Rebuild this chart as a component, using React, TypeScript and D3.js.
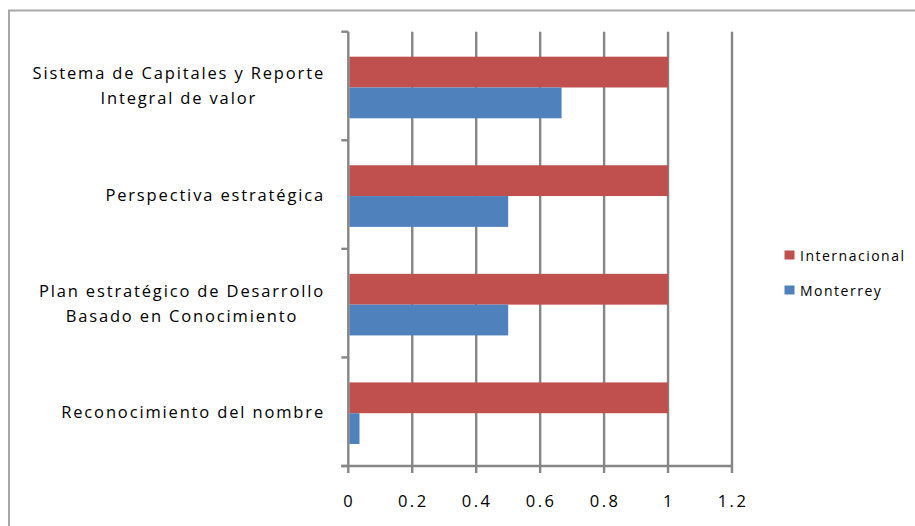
import React, { useEffect, useRef } from "react";
import * as d3 from "d3";

const categories = [
  "Sistema de Capitales y Reporte|Integral de valor",
  "Perspectiva estratégica",
  "Plan estratégico de Desarrollo|Basado en Conocimiento",
  "Reconocimiento del nombre",
];
const seriesNames = ["Internacional", "Monterrey"];
const internacional = [1, 1, 1, 1];
const monterrey = [0.667, 0.5, 0.5, 0.035];
const xTicks = [0, 0.2, 0.4, 0.6, 0.8, 1, 1.2];
const colors = ["#C0504D", "#4F81BD"];

const W = 915;
const H = 526;
const FONT = "'Open Sans', 'Liberation Sans', sans-serif";

export default function App() {
  const ref = useRef<SVGSVGElement>(null);

  useEffect(() => {
    const svg = d3.select(ref.current);
    svg.selectAll("*").remove();

    const left = 348.3, right = 732, top = 31.7, bottom = 466;
    const x = d3.scaleLinear().domain([0, 1.2]).range([left, right]);
    const y = d3.scaleBand().domain(categories).range([top, bottom]);
    const grid = "#868686";

    // chart border
    svg.append("rect").attr("x", 9).attr("y", 10.5).attr("width", 1000).attr("height", 1000)
      .attr("fill", "white").attr("stroke", "#a8a8a8").attr("stroke-width", 2);

    // vertical gridlines
    svg.append("g").selectAll("line").data(xTicks.slice(1)).join("line")
      .attr("x1", d => x(d)).attr("x2", d => x(d))
      .attr("y1", top).attr("y2", bottom + 7)
      .attr("stroke", grid).attr("stroke-width", 2.4);

    // bars
    const bh = 30.8;
    const data = categories.map((c, i) => ({ c, vals: [internacional[i], monterrey[i]] }));
    const g = svg.append("g");
    data.forEach(d => {
      const center = (y(d.c) as number) + y.bandwidth() / 2 + 1.5;
      d.vals.forEach((v, si) => {
        g.append("rect")
          .attr("x", x(0) + 1)
          .attr("y", center - bh + si * bh)
          .attr("width", x(v) - x(0) - 1)
          .attr("height", bh)
          .attr("fill", colors[si]);
      });
    });

    // y axis
    svg.append("line").attr("x1", left).attr("x2", left).attr("y1", top).attr("y2", bottom + 7)
      .attr("stroke", grid).attr("stroke-width", 2.4);
    const yBounds = [top, ...categories.map(c => (y(c) as number) + y.bandwidth())];
    svg.append("g").selectAll("line").data(yBounds).join("line")
      .attr("x1", left - 7).attr("x2", left).attr("y1", d => d).attr("y2", d => d)
      .attr("stroke", grid).attr("stroke-width", 2.4);
    // x axis
    svg.append("line").attr("x1", left - 7).attr("x2", right + 1).attr("y1", bottom).attr("y2", bottom)
      .attr("stroke", grid).attr("stroke-width", 2.4);

    // x tick labels
    svg.append("g").selectAll("text").data(xTicks).join("text")
      .attr("x", d => x(d) + 1).attr("y", 507)
      .attr("text-anchor", "middle")
      .attr("font-family", FONT).attr("font-size", 16.5).attr("letter-spacing", 2.5).attr("fill", "#000")
      .text(d => String(d));

    // category labels
    const labelRight = 325;
    const lh = 25;
    categories.forEach(c => {
      const lines = c.split("|");
      const center = (y(c) as number) + y.bandwidth() / 2;
      const tg = svg.append("g");
      const texts = lines.map((ln, i) =>
        tg.append("text")
          .attr("y", center + (i - (lines.length - 1) / 2) * lh + 6)
          .attr("font-family", FONT).attr("font-size", 16.5).attr("letter-spacing", 1.85).attr("fill", "#000")
          .attr("text-anchor", "middle")
          .text(ln)
      );
      const widths = texts.map(t => (t.node() as SVGTextElement).getComputedTextLength());
      const maxW = Math.max(...widths);
      texts.forEach(t => t.attr("x", labelRight - maxW / 2));
    });

    // legend
    const lg = svg.append("g");
    seriesNames.forEach((s, i) => {
      const ly = 255 + i * 35;
      lg.append("rect").attr("x", 784.5).attr("y", ly - 4.5).attr("width", 10).attr("height", 9)
        .attr("fill", colors[i]);
      lg.append("text").attr("x", 800).attr("y", ly + 5.5)
        .attr("font-family", FONT).attr("font-size", 14).attr("letter-spacing", 1.5).attr("fill", "#000")
        .text(s);
    });
  }, []);

  return (
    <svg ref={ref} width={W} height={H}
      style={{ position: "absolute", left: 0, top: 0, background: "white" }} />
  );
}
